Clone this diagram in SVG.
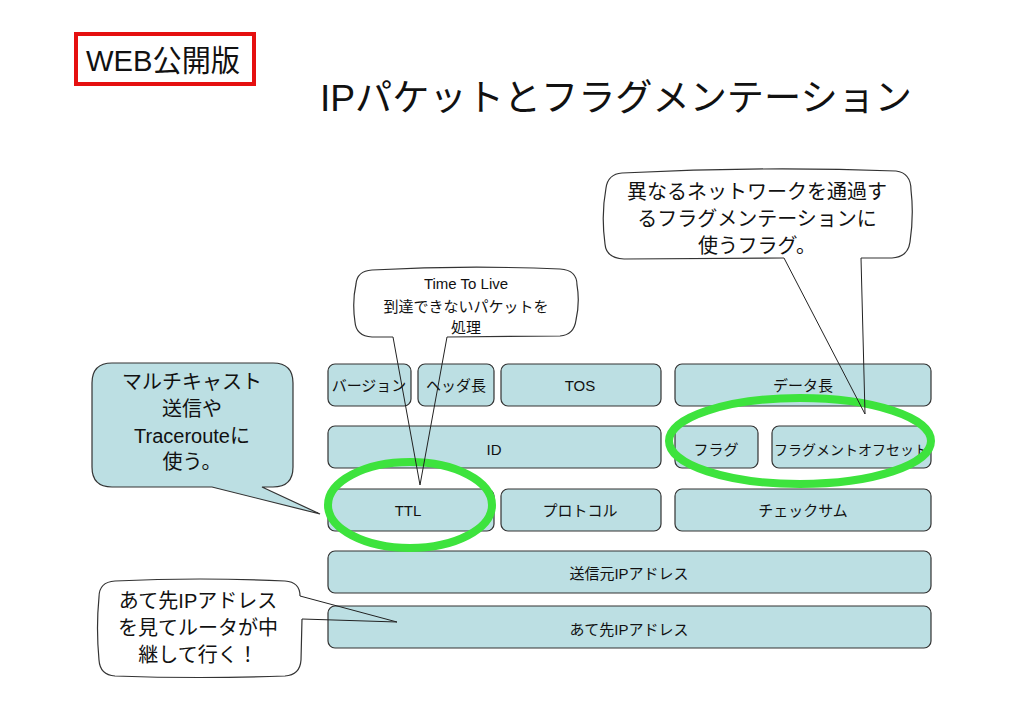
<svg xmlns="http://www.w3.org/2000/svg" width="1030" height="728" viewBox="0 0 1030 728">
<style>
text{font-family:"Liberation Sans","Noto Sans CJK JP",sans-serif;fill:#111}
.box{fill:#BCDFE3;stroke:#333;stroke-width:1.2}
.bt{font-size:15px;text-anchor:middle}
.ct{font-size:20px;text-anchor:middle}
.ring{fill:none;stroke:#3DE33D;stroke-width:8}
.call{fill:#fff;stroke:#333;stroke-width:1.2}
.ptr{fill:none;stroke:#222;stroke-width:1}
</style>
<rect width="1030" height="728" fill="#fff"/>
<g id="badge">
<rect x="76" y="34" width="178" height="50" fill="#fff" stroke="#E51010" stroke-width="4"/>
<text x="86" y="71" font-size="30" textLength="154" lengthAdjust="spacingAndGlyphs">WEB公開版</text>
</g>
<g id="title">
<text x="320" y="111" font-size="37" textLength="592" lengthAdjust="spacingAndGlyphs">IPパケットとフラグメンテーション</text>
</g>
<g id="version"><rect class="box" x="328" y="364" width="83" height="42" rx="7"/><text class="bt" x="369" y="391">バージョン</text></g>
<g id="hlen"><rect class="box" x="418" y="364" width="76" height="42" rx="7"/><text class="bt" x="456" y="391">ヘッダ長</text></g>
<g id="tos"><rect class="box" x="501" y="364" width="160" height="42" rx="7"/><text class="bt" x="580" y="391">TOS</text></g>
<g id="datalen"><rect class="box" x="675" y="364" width="256" height="42" rx="7"/><text class="bt" x="803" y="391">データ長</text></g>
<g id="id"><rect class="box" x="328" y="426" width="333" height="42" rx="7"/><text class="bt" x="494" y="455">ID</text></g>
<g id="flag"><rect class="box" x="675" y="426" width="83" height="42" rx="7"/><text class="bt" x="716" y="455">フラグ</text></g>
<g id="fragoff"><rect class="box" x="772" y="426" width="159" height="42" rx="7"/><text class="bt" x="851" y="455" style="font-size:14px">フラグメントオフセット</text></g>
<g id="ttl"><rect class="box" x="328" y="489" width="166" height="42" rx="7"/><text class="bt" x="408" y="516">TTL</text></g>
<g id="proto"><rect class="box" x="501" y="489" width="160" height="42" rx="7"/><text class="bt" x="580" y="516">プロトコル</text></g>
<g id="checksum"><rect class="box" x="675" y="489" width="256" height="42" rx="7"/><text class="bt" x="803" y="516">チェックサム</text></g>
<g id="srcip"><rect class="box" x="328" y="551" width="603" height="42" rx="7"/><text class="bt" x="629" y="579">送信元IPアドレス</text></g>
<g id="dstip"><rect class="box" x="328" y="606" width="603" height="42" rx="7"/><text class="bt" x="629" y="635">あて先IPアドレス</text></g>
<g id="ring-ttl"><ellipse class="ring" cx="410" cy="505" rx="82" ry="43"/></g>
<g id="ring-flag"><ellipse class="ring" cx="800" cy="441" rx="131" ry="43"/></g>
<g id="callout-frag">
<path class="call" d="M 861 258 L 892 258 Q 908 257 910 242 Q 914 215 911 190 Q 911 173 896 171 Q 760 166 622 173 Q 608 174 606 188 Q 601 215 605 244 Q 606 258 624 259 L 784 258"/>
<text class="ct" x="757" y="199">異なるネットワークを通過す</text>
<text class="ct" x="757" y="226">るフラグメンテーションに</text>
<text class="ct" x="757" y="253">使うフラグ。</text>
</g>
<g id="callout-ttl">
<path class="call" d="M 447 337 L 560 336 Q 574 335 576 320 Q 580 302 577 285 Q 577 270 560 269 Q 466 265 372 270 Q 357 271 356 284 Q 352 302 355 322 Q 356 336 372 337 L 393 337"/>
<text x="466" y="289" font-size="15" text-anchor="middle">Time To Live</text>
<text x="466" y="312" font-size="15" text-anchor="middle">到達できないパケットを</text>
<text x="466" y="333" font-size="15" text-anchor="middle">処理</text>
</g>
<g id="callout-multicast">
<path d="M 112 363 L 273 363 Q 293 363 293 383 L 293 467 Q 293 487 273 487 L 262 487 L 320 514 L 212 487 L 112 487 Q 92 487 92 467 L 92 383 Q 92 363 112 363 Z" fill="#BCDFE3" stroke="#333" stroke-width="1.2"/>
<text class="ct" x="192" y="389">マルチキャスト</text>
<text class="ct" x="192" y="416">送信や</text>
<text class="ct" x="192" y="443">Tracerouteに</text>
<text class="ct" x="192" y="469">使う。</text>
</g>
<g id="callout-dst">
<path class="call" d="M 300 596 Q 300 582 285 581 Q 200 577 115 581 Q 99 582 99 597 Q 96 628 99 660 Q 100 675 115 676 Q 200 679 285 676 Q 300 675 301 660 L 302 619"/>
<text class="ct" x="198" y="608">あて先IPアドレス</text>
<text class="ct" x="198" y="635">を見てルータが中</text>
<text class="ct" x="198" y="662">継して行く！</text>
</g>
<g id="connectors">
<polyline class="ptr" points="784,258 865,414 861,258"/>
<polyline class="ptr" points="393,337 420,485 447,337"/>
<polyline class="ptr" points="300,596 397,622 302,619"/>
</g>
</svg>
